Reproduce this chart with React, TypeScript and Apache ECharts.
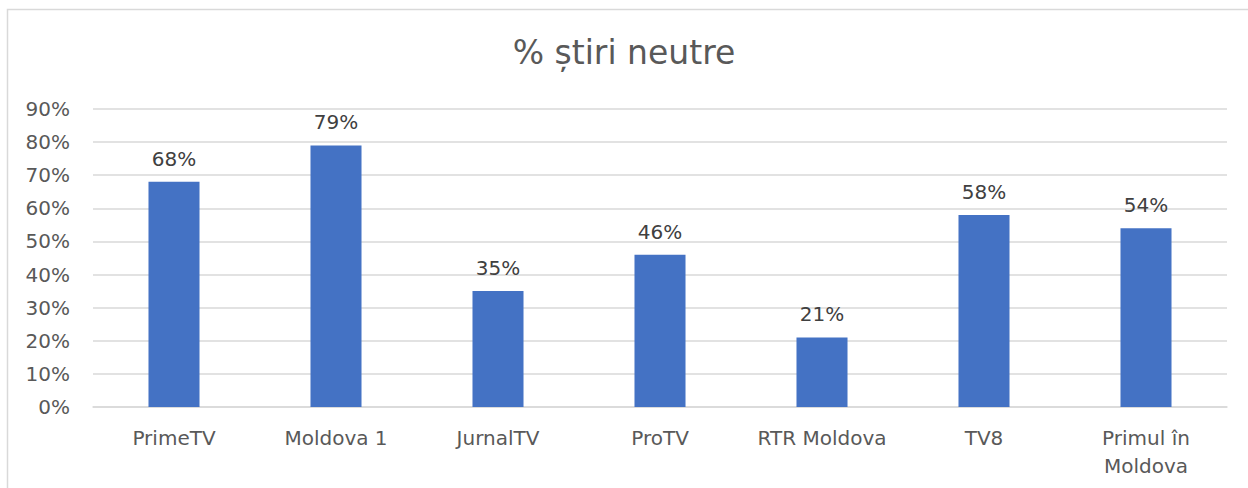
import React, { useEffect, useRef } from "react";
import * as echarts from "echarts";

const title = "% știri neutre";
const categories = ["PrimeTV", "Moldova 1", "JurnalTV", "ProTV", "RTR Moldova", "TV8", "Primul în\nMoldova"];
const values = [68, 79, 35, 46, 21, 58, 54];
const yMin = 0;
const yMax = 90;
const yStep = 10;

const FONT = "'DejaVu Sans', sans-serif";

export default function App() {
  const ref = useRef<HTMLDivElement>(null);
  useEffect(() => {
    if (!ref.current) return;
    const chart = echarts.init(ref.current, null, { renderer: "svg" });
    chart.setOption({
      animation: false,
      backgroundColor: "#ffffff",
      title: {
        text: title,
        left: "center",
        top: 31,
        textStyle: { fontFamily: FONT, fontSize: 33, fontWeight: "normal", color: "#595959" },
      },
      graphic: [
        {
          type: "rect",
          shape: { x: 7.5, y: 9.5, width: 1300, height: 600 },
          style: { fill: "none", stroke: "#d9d9d9", lineWidth: 1.5 },
          silent: true,
          z: -10,
        },
      ],
      grid: { left: 93, right: 21, top: 109, bottom: 81 },
      xAxis: {
        type: "category",
        data: categories,
        axisLine: { show: true, lineStyle: { color: "#d9d9d9", width: 1.5 } },
        axisTick: { show: false },
        axisLabel: {
          fontFamily: FONT,
          fontSize: 20,
          color: "#595959",
          margin: 17,
          lineHeight: 28,
          interval: 0,
        },
      },
      yAxis: {
        type: "value",
        min: yMin,
        max: yMax,
        interval: yStep,
        axisLine: { show: false },
        axisTick: { show: false },
        splitLine: { lineStyle: { color: "#d9d9d9", width: 1.5 } },
        axisLabel: {
          fontFamily: FONT,
          fontSize: 20,
          color: "#595959",
          margin: 23,
          formatter: (v: number) => `${v}%`,
        },
      },
      series: [
        {
          type: "bar",
          data: values,
          barWidth: "31.5%",
          itemStyle: { color: "#4472C4" },
          label: {
            show: true,
            position: "top",
            distance: 13,
            fontFamily: FONT,
            fontSize: 20,
            color: "#404040",
            formatter: (p: any) => `${p.value}%`,
          },
        },
      ],
    });
    return () => chart.dispose();
  }, []);
  return (
    <div
      ref={ref}
      style={{ position: "absolute", left: 0, top: 0, width: 1248, height: 488 }}
    />
  );
}
